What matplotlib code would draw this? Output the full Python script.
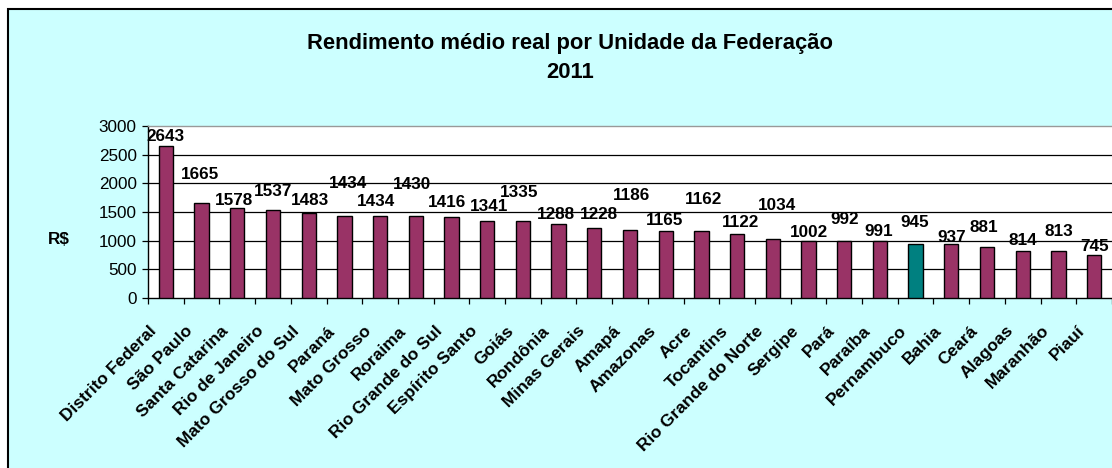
import matplotlib
matplotlib.use("Agg")
import matplotlib.pyplot as plt
import numpy as np
from matplotlib.patches import Rectangle

plt.rcParams['font.family'] = ['Liberation Sans', 'DejaVu Sans']

categories = ["Distrito Federal", "São Paulo", "Santa Catarina", "Rio de Janeiro",
              "Mato Grosso do Sul", "Paraná", "Mato Grosso", "Roraima",
              "Rio Grande do Sul", "Espírito Santo", "Goiás", "Rondônia",
              "Minas Gerais", "Amapá", "Amazonas", "Acre", "Tocantins",
              "Rio Grande do Norte", "Sergipe", "Pará", "Paraíba", "Pernambuco",
              "Bahia", "Ceará", "Alagoas", "Maranhão", "Piauí"]
values = [2643, 1665, 1578, 1537, 1483, 1434, 1434, 1430, 1416, 1341, 1335, 1288,
          1228, 1186, 1165, 1162, 1122, 1034, 1002, 992, 991, 945, 937, 881,
          814, 813, 745]
highlight = "Pernambuco"
yticks = [0, 500, 1000, 1500, 2000, 2500, 3000]
title = "Rendimento médio real por Unidade da Federação\n2011"
ylabel = "R$"

# data-label placement (pixels) relative to bar top centre
label_dy_px = [9.5, 28.5, 6.8, 18.2, 12.3, 31.8, 13.8, 32, 14.8, 14.4, 28.5, 9.2,
               12.6, 35, 10.5, 31.4, 10.7, 33.7, 7.6, 22, 9.5, 21, 6.8, 20,
               11.3, 19.7, 8.6]
label_dx_px = [0, -2, -3, 0, 1, 4, -4, -3.5, -4, 2, -3.5, -3, 5, 1, -1, 2, 3, 4.5,
               0.5, 0, -1.5, -1, 0, -3.5, 0, 0, 0]

W, H = 1112, 468
PT = 0.72  # points per pixel at 100 dpi
fig = plt.figure(figsize=(W / 100, H / 100), dpi=100)
fig.patch.set_facecolor('white')
fig.patches.append(Rectangle((7.5 / W, -0.1), 1.2, (H - 8.5) / H + 0.1,
                             transform=fig.transFigure, facecolor='#CCFFFF',
                             edgecolor='black', linewidth=1.5, zorder=-10))

ax = fig.add_axes([148 / W, (H - 298) / H, (W - 148) / W, (298 - 126) / H])
ax.set_zorder(2)
ax.set_facecolor('white')

x = np.arange(len(categories))
colors = ['#008080' if c == highlight else '#993366' for c in categories]
ax.bar(x, values, width=0.4, color=colors, edgecolor='black', linewidth=1.0, zorder=3)

ax.set_xlim(-0.5, len(categories) - 0.5)
ax.set_ylim(yticks[0], yticks[-1])
ax.set_yticks(yticks)
ax.set_yticklabels([str(t) for t in yticks], fontsize=12.3)
ax.yaxis.grid(True, color='black', linewidth=0.9, zorder=1)
ax.get_ygridlines()[-1].set_visible(False)
ax.get_ygridlines()[0].set_visible(False)
ax.set_axisbelow(True)

ax.set_xticks(np.arange(-0.5, len(categories), 1))
ax.set_xticklabels([])
ax.tick_params(axis='x', length=4, width=0.9, direction='out', color='black')
ax.tick_params(axis='y', length=4, width=0.9, direction='out', color='black', pad=4)

for xi, cat in zip(x, categories):
    ax.annotate(cat, xy=(xi, 0), xycoords=('data', 'axes fraction'),
                xytext=(-8.5 * PT, -33.5 * PT), textcoords='offset points',
                rotation=45, ha='right', va='baseline', rotation_mode='anchor',
                fontsize=12.5, fontweight='bold', annotation_clip=False)

for s in ['left', 'bottom']:
    ax.spines[s].set_color('black')
    ax.spines[s].set_linewidth(1.0)
ax.spines['top'].set_color('#999999')
ax.spines['top'].set_linewidth(1.0)
ax.spines['right'].set_visible(False)

for xi, v, dx, dy in zip(x, values, label_dx_px, label_dy_px):
    ax.annotate(str(v), xy=(xi, v), xytext=(dx * PT, dy * PT), textcoords='offset points',
                ha='center', va='center', fontsize=12.3, fontweight='bold', zorder=5)

fig.text(570 / W, 1 - 58 / H, title, ha='center', va='center', fontsize=15.8,
         fontweight='bold', linespacing=1.45)
fig.text(59 / W, 1 - 240 / H, ylabel, ha='center', va='center', fontsize=12.3, fontweight='bold')

fig.savefig('out.png', dpi=100, facecolor=fig.get_facecolor())
